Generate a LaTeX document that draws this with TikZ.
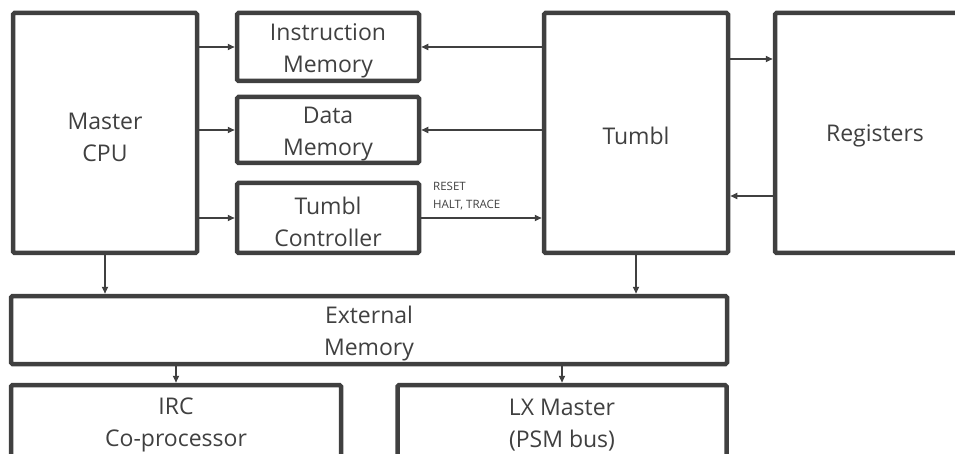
\documentclass[tikz,border=0pt]{standalone}
\usepackage{fontspec}
\setmainfont{Open Sans}
\usetikzlibrary{arrows.meta}
\definecolor{ink}{HTML}{404040}
\tikzset{
  blk/.style={draw=ink, line width=4.5pt, rounded corners=1.5pt, fill=white, inner sep=0pt},
  lbl/.style={text=ink, align=center, inner sep=0pt, font=\fontsize{23}{32}\selectfont},
  % box caption, set a little below the geometric centre
  txt/.style={lbl, yshift=-4pt},
  arr/.style={draw=ink, line width=1.6pt, -{Triangle[length=7pt,width=6pt]}},
  sig/.style={text=ink, font=\fontsize{11.5}{18}\selectfont, align=left, inner sep=0pt, anchor=west}
}
\begin{document}
\begin{tikzpicture}[x=1pt,y=-1pt]
\useasboundingbox (0,0) rectangle (955,454);
\clip (0,0) rectangle (955,454);
% top row
\node[blk, minimum width=184, minimum height=240, label={[txt]center:{Master\\CPU}}] (cpu) at (105,133) {};
\node[blk, minimum width=182, minimum height=68, label={[txt]center:{Instruction\\Memory}}] (imem) at (328,47) {};
\node[blk, minimum width=182, minimum height=66, label={[txt]center:{Data\\Memory}}] (dmem) at (328,130) {};
\node[blk, minimum width=182, minimum height=70, label={[txt]center:{Tumbl\\Controller}}] (ctrl) at (328,218) {};
\node[blk, minimum width=184, minimum height=240, label={[txt,yshift=1pt]center:Tumbl}] (tumbl) at (636,133) {};
\node[blk, minimum width=200, minimum height=240, label={[txt,yshift=1pt]center:Registers}] (regs) at (875,133) {};
% lower rows
\node[blk, minimum width=716, minimum height=68, label={[txt]center:{External\\Memory}}] (ext) at (369,330) {};
\node[blk, minimum width=330, minimum height=90] (irc) at (176,430) {};
\node[blk, minimum width=329, minimum height=90] (lx) at (562,430) {};
\node[lbl] (irct) at (176,425) {IRC\\Co-processor};
\node[lbl] (lxt) at (562,425) {LX Master\\(PSM bus)};
% connectors
\draw[arr] (cpu.east |- imem.west) -- (imem.west);
\draw[arr] (cpu.east |- dmem.west) -- (dmem.west);
\draw[arr] (cpu.east |- ctrl.west) -- (ctrl.west);
\draw[arr] (tumbl.west |- imem.east) -- (imem.east);
\draw[arr] (tumbl.west |- dmem.east) -- (dmem.east);
\draw[arr] (ctrl.east) -- (tumbl.west |- ctrl.east);
\coordinate (tr) at (0,59);
\coordinate (rt) at (0,196);
\draw[arr] (tumbl.east |- tr) -- (regs.west |- tr);
\draw[arr] (regs.west |- rt) -- (tumbl.east |- rt);
\draw[arr] (cpu.south) -- (cpu.south |- ext.north);
\draw[arr] (tumbl.south) -- (tumbl.south |- ext.north);
\draw[arr] (ext.south -| irc.north) -- (irc.north);
\draw[arr] (ext.south -| lx.north) -- (lx.north);
% control signal label
\node[sig] (rs) at (433,196) {RESET\\HALT, TRACE};
\end{tikzpicture}
\end{document}
